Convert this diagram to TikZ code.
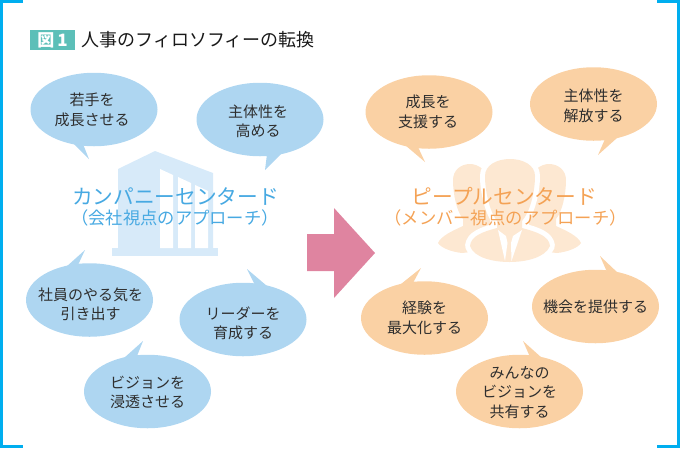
\documentclass[tikz,border=0pt]{standalone}
\usepackage{fontspec}
\setmainfont{Noto Sans CJK JP}
\usetikzlibrary{shapes.geometric}
\definecolor{framec}{HTML}{00AEEF}
\definecolor{teal1}{HTML}{5CBFB8}
\definecolor{bubblue}{HTML}{AED6F1}
\definecolor{buborange}{HTML}{FAD1A4}
\definecolor{paleblue}{HTML}{D7EAF9}
\definecolor{paleorange}{HTML}{FDE8D2}
\definecolor{headblue}{HTML}{47A9E2}
\definecolor{headorange}{HTML}{F4A255}
\definecolor{arrowpink}{HTML}{DF84A0}
\definecolor{inkc}{HTML}{2E2E2E}
\newcommand{\centrefigure}{(470,246) .. controls (471,236) and (482,232) .. (497,228) -- (497,221) .. controls (490,212) and (485,192) .. (485,176) .. controls (485,165) and (497,159) .. (510,159) .. controls (523,159) and (535,165) .. (535,176) .. controls (535,192) and (530,212) .. (522,221) -- (522,228) .. controls (537,232) and (549,236) .. (550,246) .. controls (545,258) and (525,262) .. (509.5,262) .. controls (494,262) and (474,258) .. (470,246) -- cycle}
\tikzset{
  x=1pt,y=-1pt,
  bubble/.style={shape=ellipse,minimum width=127pt,minimum height=73.5pt,inner sep=0pt},
  bubtext/.style={align=center,text=inkc,inner sep=0pt,font=\fontsize{15}{19.5}\selectfont},
  blueb/.style={bubble,fill=bubblue},
  orangeb/.style={bubble,fill=buborange},
  tailblue/.style={fill=bubblue},
  tailorange/.style={fill=buborange},
  headA/.style={font=\fontsize{20.7}{24}\selectfont,inner sep=0pt},
  headB/.style={font=\fontsize{17.3}{20}\selectfont,inner sep=0pt},
}
\begin{document}
\begin{tikzpicture}
\useasboundingbox (0,0) rectangle (680,448);
% frame corners
\fill[framec] (0,0) rectangle (23,3);
\fill[framec] (0,0) rectangle (3,448);
\fill[framec] (0,445) rectangle (23,448);
\fill[framec] (657,0) rectangle (680,3);
\fill[framec] (677,0) rectangle (680,448);
\fill[framec] (657,445) rectangle (680,448);
% title
\node[fill=teal1,minimum width=45pt,minimum height=20pt,inner sep=0pt,text=white,font=\bfseries\fontsize{17}{20}\selectfont] (tag) at (52.5,40) {図\kern3pt 1};
\node[anchor=west,inner sep=0pt,font=\fontsize{18}{20}\selectfont,text=black!90] (title) at (81.5,40) {人事のフィロソフィーの転換};
% building
\fill[paleblue] (118,169) -- (155,151) -- (213,173) -- (213,248) -- (118,248) -- cycle;
\fill[paleblue] (112,248) rectangle (217.5,256);
\fill[white] (160,169) -- (173,175) -- (173,248) -- (160,248) -- cycle;
\fill[white] (178,177) -- (191,183) -- (191,248) -- (178,248) -- cycle;
\fill[white] (195,185) -- (208,191) -- (208,248) -- (195,248) -- cycle;
% people: side figures
\fill[paleorange] (438,243) .. controls (441,236) and (452,231) .. (463,226) -- (463,219) .. controls (457,212) and (453,195) .. (453,180) .. controls (453,170) and (461,164) .. (470,164) .. controls (478,164) and (490,170) .. (490,190) -- (490,250) -- (462,253) .. controls (452,252) and (441,248) .. (438,243) -- cycle;
\fill[paleorange] (581,243) .. controls (578,236) and (567,231) .. (556,226) -- (556,219) .. controls (562,212) and (566,195) .. (566,180) .. controls (566,170) and (558,164) .. (549,164) .. controls (541,164) and (529,170) .. (529,190) -- (529,250) -- (557,253) .. controls (567,252) and (578,248) .. (581,243) -- cycle;
% people: centre figure
\path[draw=white,line width=10pt,line join=round] \centrefigure;
\fill[paleorange] \centrefigure;
\fill[white] (498,230) -- (505,261) -- (507.5,243) -- (506,236) -- cycle;
\fill[white] (522,230) -- (511.5,261) -- (511,243) -- (513,236) -- cycle;
% headings
\node[headA,text=headblue] (lefthead) at (175.5,197) {カンパニーセンタード};
\node[headB,text=headblue] (leftsub) at (175,218) {（会社視点のアプローチ）};
\node[headA,text=headorange] (righthead) at (504.5,196) {ピープルセンタード};
\node[headB,text=headorange] (rightsub) at (505.5,218) {（メンバー視点のアプローチ）};
% arrow
\fill[arrowpink] (307,234) -- (334,234) -- (334,208) -- (375,253) -- (334,298) -- (334,271) -- (307,271) -- cycle;
% blue bubbles
\node[blueb] (b1) at (94,109.5) {};
\node[bubtext] (b1t) at ([xshift=-2pt,yshift=-0.5pt]b1.center) {若手を\\成長させる};
\fill[tailblue] (72,142) -- (89,159) -- (83,144) -- cycle;
\node[blueb] (b2) at (260,119.5) {};
\node[bubtext] (b2t) at ([xshift=-2pt,yshift=-2pt]b2.center) {主体性を\\高める};
\fill[tailblue] (283,152) -- (265,170) -- (267,154) -- cycle;
\node[blueb] (b3) at (89.5,300) {};
\node[bubtext] (b3t) at ([xshift=1pt,yshift=-4.5pt]b3.center) {社員のやる気を\\引き出す};
\fill[tailblue] (66,267) -- (85,250) -- (78,265) -- cycle;
\node[blueb] (b4) at (243,319.5) {};
\node[bubtext] (b4t) at ([yshift=-4pt]b4.center) {リーダーを\\育成する};
\fill[tailblue] (255,285) -- (247,269) -- (267,286) -- cycle;
\node[blueb] (b5) at (147.5,391.5) {};
\node[bubtext] (b5t) at ([yshift=-1pt]b5.center) {ビジョンを\\浸透させる};
\fill[tailblue] (124,358) -- (143,341) -- (137,356) -- cycle;
% orange bubbles
\node[orangeb] (o1) at (429,112) {};
\node[bubtext] (o1t) at ([xshift=-1pt]o1.center) {成長を\\支援する};
\fill[tailorange] (405,145) -- (425,162) -- (418,147) -- cycle;
\node[orangeb] (o2) at (593.5,104) {};
\node[bubtext] (o2t) at ([yshift=-2pt]o2.center) {主体性を\\解放する};
\fill[tailorange] (617,138) -- (598,155) -- (605,139) -- cycle;
\node[orangeb] (o3) at (424.5,318) {};
\node[bubtext] (o3t) at (o3.center) {経験を\\最大化する};
\fill[tailorange] (401,284) -- (421,268) -- (413,283) -- cycle;
\node[orangeb] (o4) at (595.5,306.5) {};
\node[bubtext] (o4t) at (o4.center) {機会を提供する};
\fill[tailorange] (607,272) -- (600,256) -- (618,273) -- cycle;
\node[orangeb] (o5) at (519.5,391.5) {};
\node[bubtext] (o5t) at ([yshift=-1pt]o5.center) {みんなの\\ビジョンを\\共有する};
\fill[tailorange] (530,357) -- (523,341) -- (542,358) -- cycle;
\end{tikzpicture}
\end{document}
